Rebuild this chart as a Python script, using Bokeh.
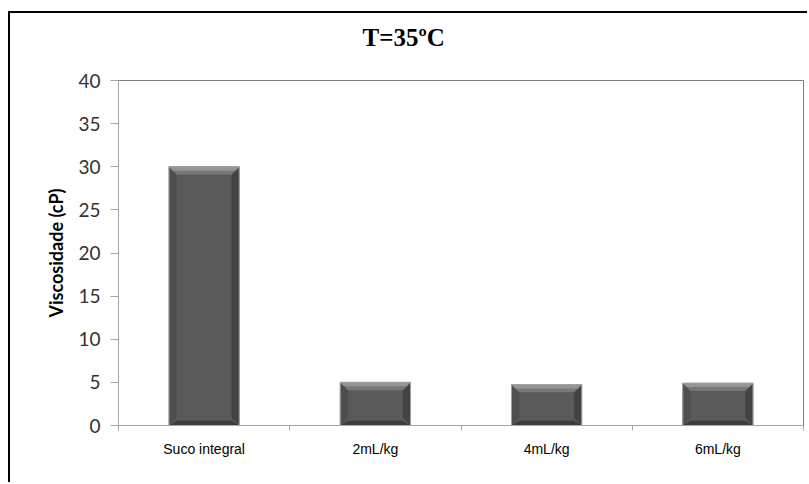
from bokeh.plotting import figure
from bokeh.models import Range1d, FixedTicker, Title
from bokeh.embed import file_html
from bokeh.resources import INLINE

# Viscosity of the juice at 35 °C, whole juice vs. enzyme doses
categories = ["Suco integral", "2mL/kg", "4mL/kg", "6mL/kg"]
viscosity = [30.0, 5.0, 4.75, 4.9]
y_ticks = [0, 5, 10, 15, 20, 25, 30, 35, 40]
chart_title = "T=35ºC"

centers = [i + 0.5 for i in range(len(categories))]
bar_w = 0.41

p = figure(width=799, height=471, title=None,
           x_range=Range1d(0, len(categories)), y_range=Range1d(0, 40),
           output_backend="svg", toolbar_location=None,
           min_border_left=108, min_border_right=6,
           min_border_top=67, min_border_bottom=59)
p.styles = {"margin-left": "8px", "margin-top": "11px",
            "border-left": "2px solid black", "border-top": "2px solid black"}

# blank spacer row between the frame and the heading
p.add_layout(Title(text=" ", text_font_size="1px", standoff=27), "above")
p.add_layout(Title(text=chart_title, align="left", offset=244, standoff=0,
                   text_font="Liberation Serif", text_font_style="bold",
                   text_font_size="25px", text_color="black"), "above")

p.grid.visible = False
p.outline_line_color = "#7f7f7f"
p.background_fill_color = "white"
p.border_fill_color = "white"

# bar bodies
p.vbar(x=centers, top=viscosity, bottom=0, width=bar_w,
       fill_color="#5a5a5a", line_color="#9a9a9a", line_width=1)

# bevel facets around each bar
dx = 0.045
dy = 0.9
tops_outer, tops_inner, lefts, rights, bottoms = [], [], [], [], []
for c, v in zip(centers, viscosity):
    l, r = c - bar_w / 2, c + bar_w / 2
    tops_outer.append(([l, r, r - dx, l + dx], [v, v, v - dy, v - dy]))
    tops_inner.append(([l, r, r - dx / 2, l + dx / 2], [v, v, v - dy / 2, v - dy / 2]))
    lefts.append(([l, l + dx, l + dx, l], [v, v - dy, dy, 0]))
    rights.append(([r, r - dx, r - dx, r], [v, v - dy, dy, 0]))
    bottoms.append(([l, r, r - dx, l + dx], [0, 0, dy * 0.6, dy * 0.6]))

def facets(items, color):
    p.patches(xs=[a for a, _ in items], ys=[b for _, b in items],
              fill_color=color, line_color=None)

facets(lefts, "#4e4e4e")
facets(rights, "#434343")
facets(bottoms, "#3c3c3c")
facets(tops_outer, "#787878")
facets(tops_inner, "#959595")
p.vbar(x=centers, top=viscosity, bottom=0, width=bar_w,
       fill_color=None, line_color="#a0a0a0", line_width=1)

# y axis
ya = p.yaxis[0]
ya.ticker = FixedTicker(ticks=y_ticks)
ya.axis_label = "Viscosidade (cP)"
ya.axis_label_text_font = "Lato"
ya.axis_label_text_font_style = "bold"
ya.axis_label_text_font_size = "18px"
ya.axis_label_text_color = "black"
ya.axis_label_standoff = 8
ya.major_label_text_font = "Lato"
ya.major_label_text_font_size = "19px"
ya.major_label_text_color = "#333333"
ya.major_label_standoff = 10
ya.axis_line_color = "#a6a6a6"
ya.major_tick_line_color = "#a6a6a6"
ya.major_tick_out = 8
ya.major_tick_in = 0
ya.minor_tick_line_color = None

# x axis: labels at category centres, ticks on category boundaries
xa = p.xaxis[0]
xa.ticker = FixedTicker(ticks=centers, minor_ticks=list(range(len(categories) + 1)))
xa.major_label_overrides = {c: name for c, name in zip(centers, categories)}
xa.major_label_text_font = "Liberation Sans"
xa.major_label_text_font_size = "14px"
xa.major_label_text_color = "black"
xa.major_label_standoff = 10
xa.major_tick_line_color = None
xa.major_tick_out = 0
xa.major_tick_in = 0
xa.minor_tick_line_color = "#a6a6a6"
xa.minor_tick_out = 5
xa.minor_tick_in = 0
xa.axis_line_color = "#a6a6a6"

open("out.html", "w").write(file_html(p, INLINE))
